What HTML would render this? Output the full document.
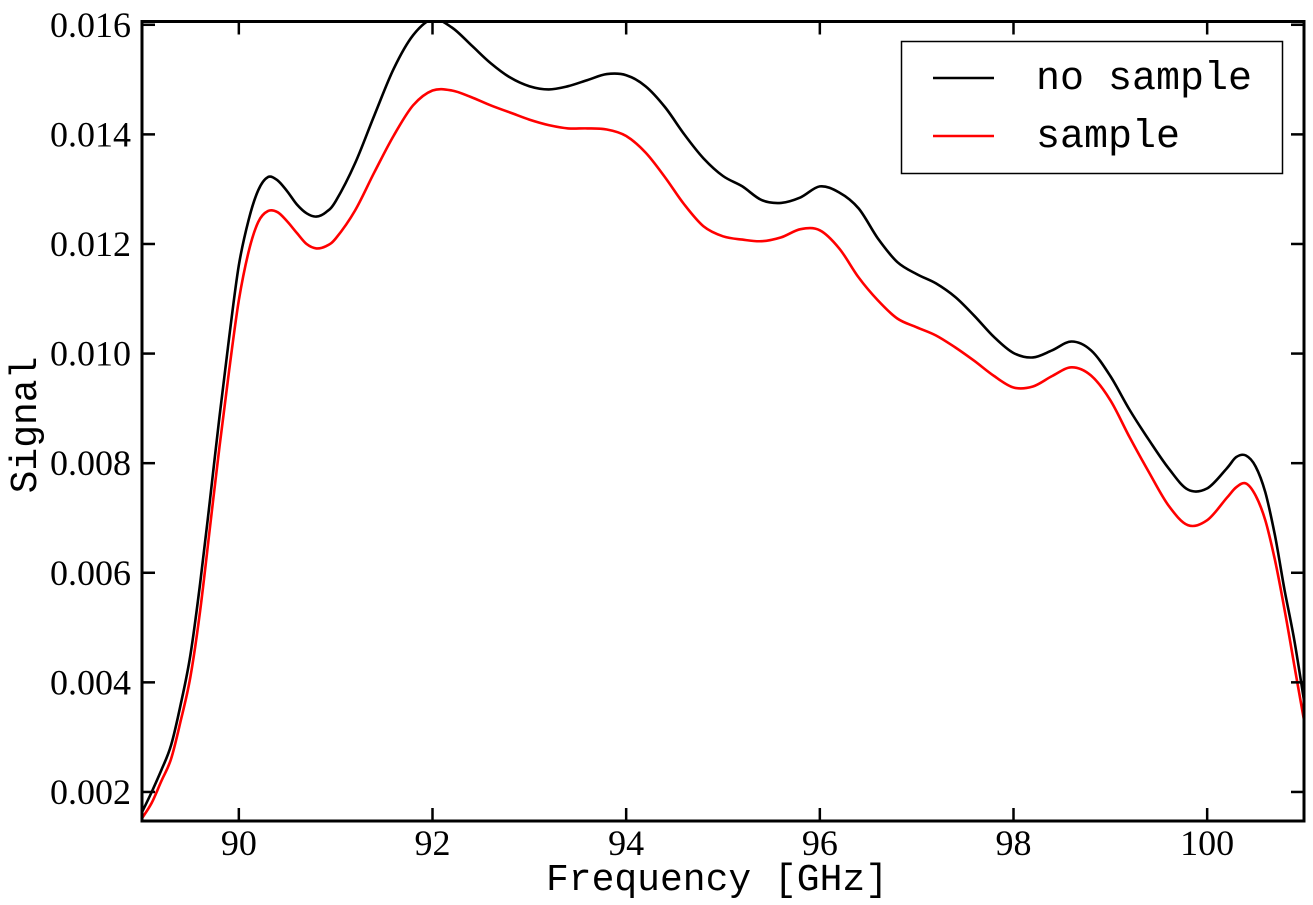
<!DOCTYPE html>
<html><head><meta charset="utf-8"><style>
html,body{margin:0;padding:0;background:#fff;}
svg{display:block;}
.tk{font-family:"Liberation Serif",serif;font-size:36px;fill:#000;}
.mono{font-family:"Liberation Mono",monospace;font-size:38px;fill:#000;}
.lgt{font-family:"Liberation Mono",monospace;font-size:40px;fill:#000;}
</style></head><body>
<svg id="chart" width="1313" height="905" xmlns="http://www.w3.org/2000/svg"></svg>
<script>
const freqs=[89,89.1,89.2,89.3,89.4,89.5,89.6,89.7,89.8,89.9,90,90.1,90.2,90.3,90.4,90.5,90.6,90.7,90.8,90.9,91,91.2,91.4,91.6,91.8,92,92.2,92.4,92.6,92.8,93,93.2,93.4,93.6,93.8,94,94.2,94.4,94.6,94.8,95,95.2,95.4,95.6,95.8,96,96.2,96.4,96.6,96.8,97,97.2,97.4,97.6,97.8,98,98.2,98.4,98.6,98.8,99,99.2,99.4,99.6,99.8,100,100.2,100.3,100.4,100.5,100.6,100.7,100.8,100.9,101];
const noSample=[1.63,2.0,2.4,2.85,3.6,4.5,5.8,7.3,8.85,10.3,11.61,12.43,12.98,13.22,13.16,12.96,12.72,12.56,12.5,12.58,12.78,13.47,14.35,15.2,15.81,16.1,15.95,15.63,15.3,15.04,14.88,14.82,14.88,14.99,15.1,15.08,14.88,14.5,14.0,13.56,13.24,13.05,12.8,12.75,12.85,13.05,12.94,12.65,12.1,11.67,11.45,11.28,11.03,10.68,10.3,10.01,9.93,10.06,10.22,10.06,9.59,8.97,8.42,7.91,7.52,7.54,7.9,8.11,8.14,7.94,7.47,6.68,5.68,4.77,3.67];
const sample=[1.52,1.8,2.2,2.6,3.3,4.1,5.3,6.8,8.3,9.7,10.97,11.85,12.4,12.6,12.58,12.41,12.2,12.0,11.92,11.96,12.1,12.61,13.31,13.98,14.53,14.8,14.8,14.68,14.53,14.4,14.27,14.17,14.11,14.11,14.09,13.97,13.67,13.22,12.72,12.32,12.14,12.08,12.05,12.12,12.27,12.25,11.92,11.39,10.97,10.64,10.48,10.33,10.11,9.86,9.59,9.38,9.4,9.59,9.75,9.6,9.15,8.47,7.83,7.23,6.87,6.96,7.36,7.56,7.63,7.41,6.96,6.23,5.32,4.31,3.31];
const xTicks=[90,92,94,96,98,100];
const yTicks=[0.002,0.004,0.006,0.008,0.010,0.012,0.014,0.016];
const yTickLabels=["0.002","0.004","0.006","0.008","0.010","0.012","0.014","0.016"];
const valueScale=0.001;

const L=142,R=1304,T=21.5,B=821,X0=89,X1=101,Y0=0.00147,Y1=0.01606;
const sx=f=>L+(f-X0)/(X1-X0)*(R-L);
const sy=v=>B-(v-Y0)/(Y1-Y0)*(B-T);
const svg=document.getElementById('chart');
const NS='http://www.w3.org/2000/svg';
function mk(tag,attrs,parent){const e=document.createElementNS(NS,tag);for(const k in attrs)e.setAttribute(k,attrs[k]);(parent||svg).appendChild(e);return e;}

const defs=mk('defs',{});const cp=mk('clipPath',{id:'clip'},defs);mk('rect',{x:L,y:T,width:R-L,height:B-T},cp);

function series(vals,color,name){
  const P=freqs.map((f,i)=>[sx(f),sy(vals[i]*valueScale)]);
  let d='M'+P[0][0].toFixed(1)+','+P[0][1].toFixed(1);
  for(let i=0;i<P.length-1;i++){
    const p0=P[Math.max(0,i-1)],p1=P[i],p2=P[i+1],p3=P[Math.min(P.length-1,i+2)];
    const c1=[p1[0]+(p2[0]-p0[0])/6,p1[1]+(p2[1]-p0[1])/6];
    const c2=[p2[0]-(p3[0]-p1[0])/6,p2[1]-(p3[1]-p1[1])/6];
    d+=' C'+c1[0].toFixed(1)+','+c1[1].toFixed(1)+' '+c2[0].toFixed(1)+','+c2[1].toFixed(1)+' '+p2[0].toFixed(1)+','+p2[1].toFixed(1);
  }
  const p=mk('path',{d:d,fill:'none',stroke:color,'stroke-width':2.6,'stroke-linejoin':'round','clip-path':'url(#clip)'});
  
  
}
series(noSample,'#000','no-sample-line');
series(sample,'#ff0000','sample-line');

const frame=mk('rect',{x:L,y:T,width:R-L,height:B-T,fill:'none',stroke:'#000','stroke-width':3});



xTicks.forEach(t=>{
  const x=sx(t);
  mk('line',{x1:x,y1:B,x2:x,y2:B-13,stroke:'#000','stroke-width':2.5});
  mk('line',{x1:x,y1:T,x2:x,y2:T+13,stroke:'#000','stroke-width':2.5});
  const tx=mk('text',{x:x,y:855,'text-anchor':'middle',class:'tk'});
  tx.textContent=String(t);
  
  
});
yTicks.forEach((t,i)=>{
  const y=sy(t);
  mk('line',{x1:L,y1:y,x2:L+13,y2:y,stroke:'#000','stroke-width':2.5});
  mk('line',{x1:R,y1:y,x2:R-13,y2:y,stroke:'#000','stroke-width':2.5});
  const tx=mk('text',{x:131,y:y+12,'text-anchor':'end',class:'tk'});
  tx.textContent=yTickLabels[i];
  
  
});

const xt=mk('text',{x:717,y:890,'text-anchor':'middle',class:'mono'});
xt.textContent='Frequency [GHz]';


const yt=mk('text',{x:0,y:0,'text-anchor':'middle',class:'mono',transform:'translate(36,425) rotate(-90)','font-size':'34px'});
yt.textContent='Signal';



const lg=mk('g',{});


mk('rect',{x:901.5,y:41.5,width:381,height:132,fill:'#fff',stroke:'#000','stroke-width':1.5},lg);
[['no sample','#000',78],['sample','#ff0000',136]].forEach(([lab,c,y])=>{
  const g=mk('g',{},lg);
  
  
  mk('line',{x1:933,y1:y,x2:994,y2:y,stroke:c,'stroke-width':2.6},g);
  const t=mk('text',{x:1036,y:y+11,class:'lgt'},g);
  t.textContent=lab;
});
</script>
</body></html>
